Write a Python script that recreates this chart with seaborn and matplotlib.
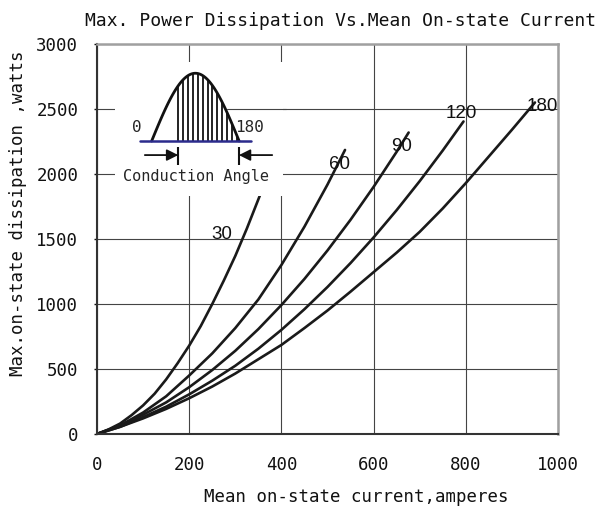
import matplotlib
matplotlib.use('Agg')
import matplotlib.pyplot as plt
import pandas as pd
import numpy as np
import seaborn as sns

# values (current in amperes, power in watts)
current_30 = [0, 25, 50, 75, 100, 125, 150, 175, 200, 225, 250, 275, 300, 325, 355]
power_30 = [0, 35, 80, 145, 220, 310, 420, 545, 680, 830, 1000, 1180, 1370, 1580, 1850]

current_60 = [0, 50, 100, 150, 200, 250, 300, 350, 400, 450, 500, 538]
power_60 = [0, 65, 165, 290, 450, 620, 815, 1035, 1300, 1595, 1919, 2185]

current_90 = [0, 50, 100, 150, 200, 250, 300, 350, 400, 450, 500, 550, 600, 650, 676]
power_90 = [0, 64, 148, 243, 360, 492, 640, 807, 992, 1193, 1412, 1648, 1901, 2171, 2319]

current_120 = [0, 50, 100, 150, 200, 250, 300, 350, 400, 450, 500, 550, 600, 650, 700, 750, 795]
power_120 = [0, 55, 130, 210, 305, 410, 525, 656, 801, 960, 1131, 1315, 1512, 1722, 1945, 2181, 2404]

current_180 = [0, 50, 100, 150, 200, 250, 300, 350, 400, 450, 500, 550, 600, 650, 700, 750, 800, 850, 900, 950]
power_180 = [0, 55, 120, 193, 275, 365, 465, 575, 685, 815, 950, 1095, 1245, 1395, 1555, 1735, 1930, 2135, 2340, 2550]

angles = ['30', '60', '90', '120', '180']
label_x = [270, 526, 661, 791, 965]
label_y = [1531, 2074, 2215, 2466, 2517]

x_ticks = [0, 200, 400, 600, 800, 1000]
y_ticks = [0, 500, 1000, 1500, 2000, 2500, 3000]

sns.set_theme(style='white')
plt.rcParams['font.family'] = ['DejaVu Sans Mono', 'DejaVu Sans']

frames = []
for ang, cx, py in zip(angles,
                       [current_30, current_60, current_90, current_120, current_180],
                       [power_30, power_60, power_90, power_120, power_180]):
    frames.append(pd.DataFrame({'current': cx, 'power': py, 'angle': ang}))
df = pd.concat(frames, ignore_index=True)

fig = plt.figure(figsize=(6, 5.08), dpi=100)
ax = fig.add_axes([0.1617, 0.1457, 0.7683, 0.7677])

sns.lineplot(data=df, x='current', y='power', hue='angle', units='angle',
             estimator=None, sort=False, palette=['#1a1a1a'] * 5,
             linewidth=1.9, legend=False, ax=ax)

for txt, lx, ly in zip(angles, label_x, label_y):
    ax.text(lx, ly, txt, ha='center', va='center', fontsize=13.5,
            family=['Liberation Sans', 'DejaVu Sans'], color='#111')

ax.set_xlim(0, 1000)
ax.set_ylim(0, 3000)
ax.set_xticks(x_ticks)
ax.set_yticks(y_ticks)
ax.grid(True, color='#444444', lw=0.8)
ax.set_axisbelow(True)
ax.set_xlabel('')
ax.set_ylabel('')
ax.tick_params(axis='x', length=0, pad=16, labelsize=12.5, colors='#111')
ax.tick_params(axis='y', length=2.5, width=1, pad=11, labelsize=12.5,
               colors='#111', left=True)
for side in ['left', 'bottom']:
    ax.spines[side].set_color('#333333')
    ax.spines[side].set_linewidth(1.5)
for side in ['top', 'right']:
    ax.spines[side].set_color('#a0a0a0')
    ax.spines[side].set_linewidth(1.8)

# inset sketch of the conduction angle
ax_in = ax.inset_axes([0.039, 0.61, 0.364, 0.344])
ax_in.set_facecolor('white')
for s in ax_in.spines.values():
    s.set_visible(False)
ax_in.set_xticks([])
ax_in.set_yticks([])
ax_in.set_xlim(-75.4, 269.8)
ax_in.set_ylim(-0.812, 1.167)
phase = np.linspace(0, 180, 120)
ax_in.plot(phase, np.sin(np.radians(phase)), color='#111', lw=2)
hatch = np.arange(55, 180, 10)
ax_in.vlines(hatch, 0, np.sin(np.radians(hatch)), color='#111', lw=1.3)
ax_in.plot([-24, 205], [0, 0], color='#2b2b8c', lw=1.8)
ax_in.text(-31, 0.2, '0', ha='center', va='center', fontsize=11.5)
ax_in.text(201, 0.2, '180', ha='center', va='center', fontsize=11.5)
ax_in.vlines([54.7, 179.5], -0.355, -0.084, color='#111', lw=1.5)
ax_in.annotate('', xy=(54.7, -0.207), xytext=(-14, -0.207),
               arrowprops=dict(arrowstyle='-|>', color='#111', lw=1.3,
                               mutation_scale=17, shrinkA=0, shrinkB=0))
ax_in.annotate('', xy=(179.5, -0.207), xytext=(248, -0.207),
               arrowprops=dict(arrowstyle='-|>', color='#111', lw=1.3,
                               mutation_scale=17, shrinkA=0, shrinkB=0))
ax_in.text(91, -0.527, 'Conduction Angle', ha='center', va='center', fontsize=11)

ax.axhline(2500, xmin=0.282, xmax=0.41, color='#444444', lw=0.8, zorder=6)

fig.text(0.567, 0.959, 'Max. Power Dissipation Vs.Mean On-state Current',
         ha='center', va='center', fontsize=13, color='#111')
fig.text(0.03, 0.58, 'Max.on-state dissipation ,watts', rotation=90,
         ha='center', va='center', fontsize=12.5, color='#111')
fig.text(0.594, 0.021, 'Mean on-state current,amperes',
         ha='center', va='center', fontsize=12.5, color='#111')

fig.savefig('out.png', dpi=100)
